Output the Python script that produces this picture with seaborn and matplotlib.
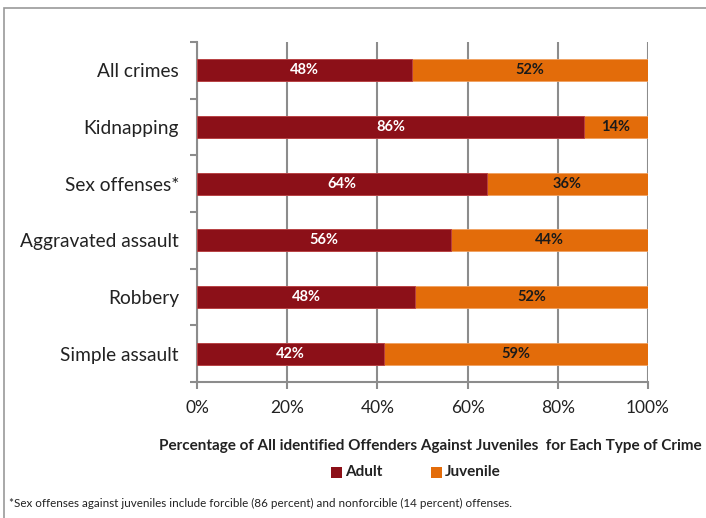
import matplotlib
matplotlib.use("Agg")
import matplotlib.pyplot as plt
import seaborn as sns
import pandas as pd
from matplotlib.patches import Rectangle
from matplotlib.ticker import FixedLocator

categories = ["All crimes", "Kidnapping", "Sex offenses*", "Aggravated assault", "Robbery", "Simple assault"]
adult = [47.7, 85.8, 64.3, 56.3, 48.3, 41.5]
juvenile = [52.3, 14.2, 35.7, 43.7, 51.7, 58.5]
adult_labels = ["48%", "86%", "64%", "56%", "48%", "42%"]
juvenile_labels = ["52%", "14%", "36%", "44%", "52%", "59%"]
xticks = [0, 20, 40, 60, 80, 100]
xtick_labels = ["0%", "20%", "40%", "60%", "80%", "100%"]

RED = "#8C1018"
ORANGE = "#E36C0A"
GRAY = "#8C8C8C"

sns.set_theme(style="white")
plt.rcParams["font.family"] = ["Lato", "DejaVu Sans"]

df = pd.DataFrame({"cat": categories, "adult": adult, "juvenile": juvenile})
df["total"] = df["adult"] + df["juvenile"]

fig = plt.figure(figsize=(7.06, 5.18), dpi=100)
ax = fig.add_axes([197/706, 1-382/518, 451/706, 340/518])

sns.barplot(data=df, x="total", y="cat", color=ORANGE, width=0.39, ax=ax,
            saturation=1, edgecolor="#F0A060", linewidth=0.6, zorder=3)
sns.barplot(data=df, x="adult", y="cat", color=RED, width=0.39, ax=ax,
            saturation=1, edgecolor="#B84048", linewidth=0.6, zorder=4)

for i in range(len(categories)):
    ax.text(adult[i]/2, i, adult_labels[i], ha="center", va="center", color="white",
            fontsize=10.5, fontweight="bold", zorder=5)
    ax.text(adult[i] + juvenile[i]/2, i, juvenile_labels[i], ha="center", va="center",
            color="#1a1a1a", fontsize=10.5, fontweight="bold", zorder=5)

ax.set_xlim(0, 100)
ax.set_ylim(5.5, -0.5)
ax.set_xticks(xticks)
ax.set_xticklabels(xtick_labels, fontsize=12.5, color="#222222")
ax.tick_params(axis="y", labelsize=13.8, labelcolor="#222222", length=0, pad=13, left=True)
ax.yaxis.set_minor_locator(FixedLocator([i - 0.5 for i in range(len(categories)+1)]))
ax.tick_params(axis="y", which="minor", length=5, width=1.5, color=GRAY, direction="out", left=True)
ax.tick_params(axis="x", length=5, width=1.5, color=GRAY, direction="out", pad=8, bottom=True)
ax.set_xlabel("")
ax.set_ylabel("")

ax.grid(axis="x", color=GRAY, linewidth=1.5, zorder=0)
ax.set_axisbelow(True)
for s in ["top", "right"]:
    ax.spines[s].set_visible(False)
for s in ["left", "bottom"]:
    ax.spines[s].set_color(GRAY)
    ax.spines[s].set_linewidth(1.5)

fig.text(430/706, 1-446/518, "Percentage of All identified Offenders Against Juveniles  for Each Type of Crime",
         ha="center", va="center", fontsize=11, fontweight="bold", color="#222222")

# legend
fig.patches.append(Rectangle((331/706, 1-478/518), 11/706, 11/518, transform=fig.transFigure,
                             facecolor=RED, edgecolor="none"))
fig.text(345/706, 1-472/518, "Adult", ha="left", va="center", fontsize=11, fontweight="bold", color="#222222")
fig.patches.append(Rectangle((431/706, 1-478/518), 11/706, 11/518, transform=fig.transFigure,
                             facecolor=ORANGE, edgecolor="none"))
fig.text(445/706, 1-472/518, "Juvenile", ha="left", va="center", fontsize=11, fontweight="bold", color="#222222")

fig.text(9/706, 1-503/518,
         "*Sex offenses against juveniles include forcible (86 percent) and nonforcible (14 percent) offenses.",
         ha="left", va="center", fontsize=8.4, color="#222222")

# outer frame
fig.patches.append(Rectangle((3.5/706, -0.05), 1.0, 1 - 7.5/518 + 0.05, transform=fig.transFigure,
                             facecolor="none", edgecolor="#999999", linewidth=1.2))

fig.savefig("out.png", dpi=100)
